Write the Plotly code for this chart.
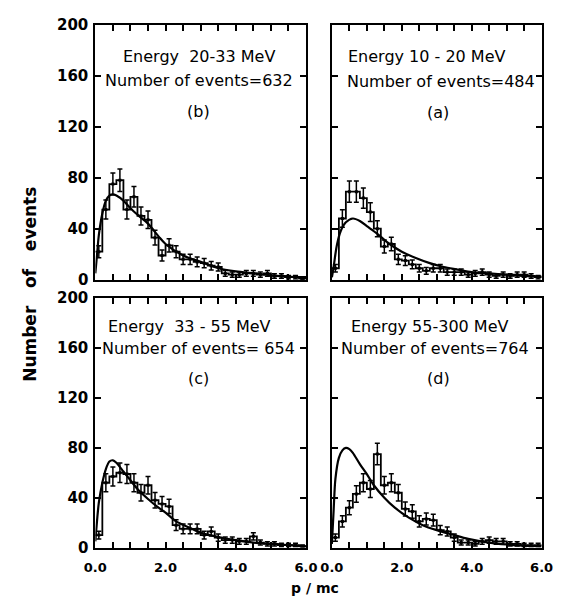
import numpy as np
import plotly.graph_objects as go

# ---------------- data ----------------
bin_edges = [round(0.2 * i, 1) for i in range(31)]

counts_b = [22, 55, 75, 78, 55, 65, 50, 47, 33, 19, 27, 22, 16, 16, 14, 13, 11, 10, 5, 4,
            4, 5, 5, 4, 5, 3, 3, 2, 2, 1]
counts_a = [9, 48, 69, 69, 64, 53, 40, 26, 28, 16, 15, 12, 9, 7, 9, 9, 6, 6, 6, 4,
            5, 6, 4, 3, 4, 3, 4, 4, 3, 2]
counts_c = [10, 52, 57, 60, 59, 52, 44, 50, 38, 35, 33, 18, 15, 15, 15, 10, 13, 8, 6, 6,
            5, 5, 9, 4, 3, 3, 2, 2, 2, 1]
counts_d = [8, 21, 32, 43, 52, 47, 75, 50, 52, 44, 31, 29, 21, 23, 22, 14, 13, 8, 4, 4,
            3, 5, 6, 5, 5, 3, 3, 2, 2, 2]

curve_b_x = [0, 0.05, 0.1, 0.2, 0.3, 0.4, 0.5, 0.6, 0.8, 1.0, 1.2, 1.5, 1.8, 2.0, 2.5, 3.0, 3.5, 4.0, 4.5, 5.0, 5.5, 6.0]
curve_b_y = [5, 20, 35, 52, 62, 66, 67, 66, 62, 56, 51, 44, 34, 28, 19, 14, 9, 6.5, 5, 3.5, 2.5, 2]

curve_a_x = [0, 0.05, 0.1, 0.15, 0.25, 0.4, 0.6, 0.8, 1.0, 1.3, 1.6, 2.0, 2.4, 2.8, 3.2, 3.6, 4.0, 4.5, 5.0, 5.5, 6.0]
curve_a_y = [2, 10, 20, 28, 38, 45, 48, 46, 42, 36, 29, 22, 17, 13, 10, 8, 6, 5, 4, 3, 2.5]

curve_c_x = [0, 0.05, 0.1, 0.2, 0.3, 0.4, 0.5, 0.6, 0.8, 1.0, 1.2, 1.5, 1.8, 2.0, 2.3, 2.6, 3.0, 3.5, 4.0, 4.5, 5.0, 5.5, 6.0]
curve_c_y = [5, 22, 36, 52, 63, 69, 70, 68, 61, 54, 47, 39, 32, 28, 21, 17, 12, 8.5, 6, 4, 3, 2, 1]

curve_d_x = [0, 0.05, 0.1, 0.2, 0.3, 0.4, 0.5, 0.6, 0.8, 1.0, 1.2, 1.5, 1.8, 2.2, 2.6, 3.0, 3.5, 3.9, 4.5, 5.0, 5.5, 6.0]
curve_d_y = [3, 30, 55, 72, 78, 80, 79, 76, 67, 59, 50, 40, 32, 24, 18, 14, 10, 7, 4, 2.5, 1.5, 1]

panel_titles = {
    "b": ["Energy  20-33 MeV", "Number of events=632", "(b)"],
    "a": ["Energy 10 - 20 MeV", "Number of events=484", "(a)"],
    "c": ["Energy  33 - 55 MeV", "Number of events= 654", "(c)"],
    "d": ["Energy 55-300 MeV", "Number of events=764", "(d)"],
}

x_tickvals = [round(0.5 * i, 1) for i in range(13)]
x_ticktext = ["0.0", "", "", "", "2.0", "", "", "", "4.0", "", "", "", "6.0"]
y_tickvals = [0, 40, 80, 120, 160, 200]
y_ticktext = ["0", "40", "80", "120", "160", "200"]

# ---------------- figure ----------------
W, H = 568, 609
fig = go.Figure()

panels = [
    ("b", counts_b, curve_b_x, curve_b_y, "x", "y"),
    ("a", counts_a, curve_a_x, curve_a_y, "x2", "y2"),
    ("c", counts_c, curve_c_x, curve_c_y, "x3", "y3"),
    ("d", counts_d, curve_d_x, curve_d_y, "x4", "y4"),
]

centers = [(bin_edges[i] + bin_edges[i + 1]) / 2 for i in range(30)]

for key, counts, cx, cy, xa, ya in panels:
    fig.add_trace(go.Scatter(x=bin_edges, y=list(counts) + [counts[-1]], mode="lines",
                             line=dict(shape="hv", color="black", width=1.8),
                             xaxis=xa, yaxis=ya, showlegend=False, hoverinfo="skip"))
    fig.add_trace(go.Scatter(x=centers, y=counts, mode="markers",
                             marker=dict(size=3, color="black", symbol="square"),
                             error_y=dict(type="data", array=np.sqrt(counts), color="black",
                                          thickness=1.5, width=2.5),
                             xaxis=xa, yaxis=ya, showlegend=False, hoverinfo="skip"))
    fig.add_trace(go.Scatter(x=cx, y=cy, mode="lines",
                             line=dict(shape="spline", color="black", width=2.2, smoothing=0.8),
                             xaxis=xa, yaxis=ya, showlegend=False, hoverinfo="skip"))

# domains in pixels -> paper fractions
def xd(l, r):
    return [l / W, r / W]

def yd(t, b):
    return [1 - b / H, 1 - t / H]

dom = {
    "x": xd(87, 307), "x2": xd(334, 553), "x3": xd(87, 307), "x4": xd(334, 553),
    "y": yd(16, 279), "y2": yd(16, 279), "y3": yd(298, 555), "y4": yd(298, 555),
}

tickfont = dict(family="DejaVu Sans", size=15, color="black", weight="bold")
common_ax = dict(showline=True, linewidth=2, linecolor="black", mirror="ticks",
                 ticks="inside", ticklen=6, tickwidth=1.8, tickcolor="black",
                 showgrid=False, zeroline=False, tickfont=tickfont, fixedrange=True)

layout = dict(width=W, height=H, autosize=False, margin=dict(l=0, r=0, t=0, b=0),
              paper_bgcolor="white", plot_bgcolor="white", showlegend=False)

for i, (xa, ya) in enumerate([("x", "y"), ("x2", "y2"), ("x3", "y3"), ("x4", "y4")]):
    xname = "xaxis" if xa == "x" else "xaxis" + xa[1:]
    yname = "yaxis" if ya == "y" else "yaxis" + ya[1:]
    bottom = i >= 2
    left = i in (0, 2)
    layout[xname] = dict(common_ax, domain=dom[xa], range=[0, 6], anchor=ya,
                         tickvals=x_tickvals,
                         ticktext=x_ticktext if bottom else [""] * 13,
                         ticklabelstandoff=7,
                         tickfont=dict(tickfont, size=13))
    layout[yname] = dict(common_ax, domain=dom[ya], range=[0, 200], anchor=xa,
                         tickvals=y_tickvals, ticklabelstandoff=2,
                         ticktext=y_ticktext if left else [""] * 6)

fig.update_layout(**layout)

# panel annotations (data coordinates)
txt_font = dict(family="DejaVu Sans", size=16, color="black")
ann_pos = {
    "b": ("x", "y", [(2.95, 175, "center"), (2.95, 156, "center"), (2.95, 132, "center")]),
    "a": ("x2", "y2", [(0.40, 175, "left"), (3.12, 155, "center"), (3.04, 131, "center")]),
    "c": ("x3", "y3", [(0.30, 177, "left"), (2.95, 160, "center"), (2.95, 136, "center")]),
    "d": ("x4", "y4", [(2.81, 177, "center"), (2.96, 160, "center"), (3.04, 136, "center")]),
}
for key, (xa, ya, pos) in ann_pos.items():
    for (px, py, anc), text in zip(pos, panel_titles[key]):
        fig.add_annotation(x=px, y=py, xref=xa, yref=ya, text=text, showarrow=False,
                           xanchor=anc, yanchor="middle", font=txt_font)

# axis titles
fig.add_annotation(x=18 / W, y=1 - 284 / H, xref="paper", yref="paper",
                   text="Number\u00a0\u00a0\u00a0of\u00a0\u00a0\u00a0events", textangle=-90,
                   showarrow=False, xanchor="center", yanchor="middle",
                   font=dict(family="DejaVu Sans", size=17, color="black", weight="bold"))
fig.add_annotation(x=316 / W, y=1 - 597 / H, xref="paper", yref="paper",
                   text="p / mc", showarrow=False, xanchor="center", yanchor="middle",
                   font=dict(family="DejaVu Sans", size=14, color="black", weight="bold"))

fig.write_html("out.html")
